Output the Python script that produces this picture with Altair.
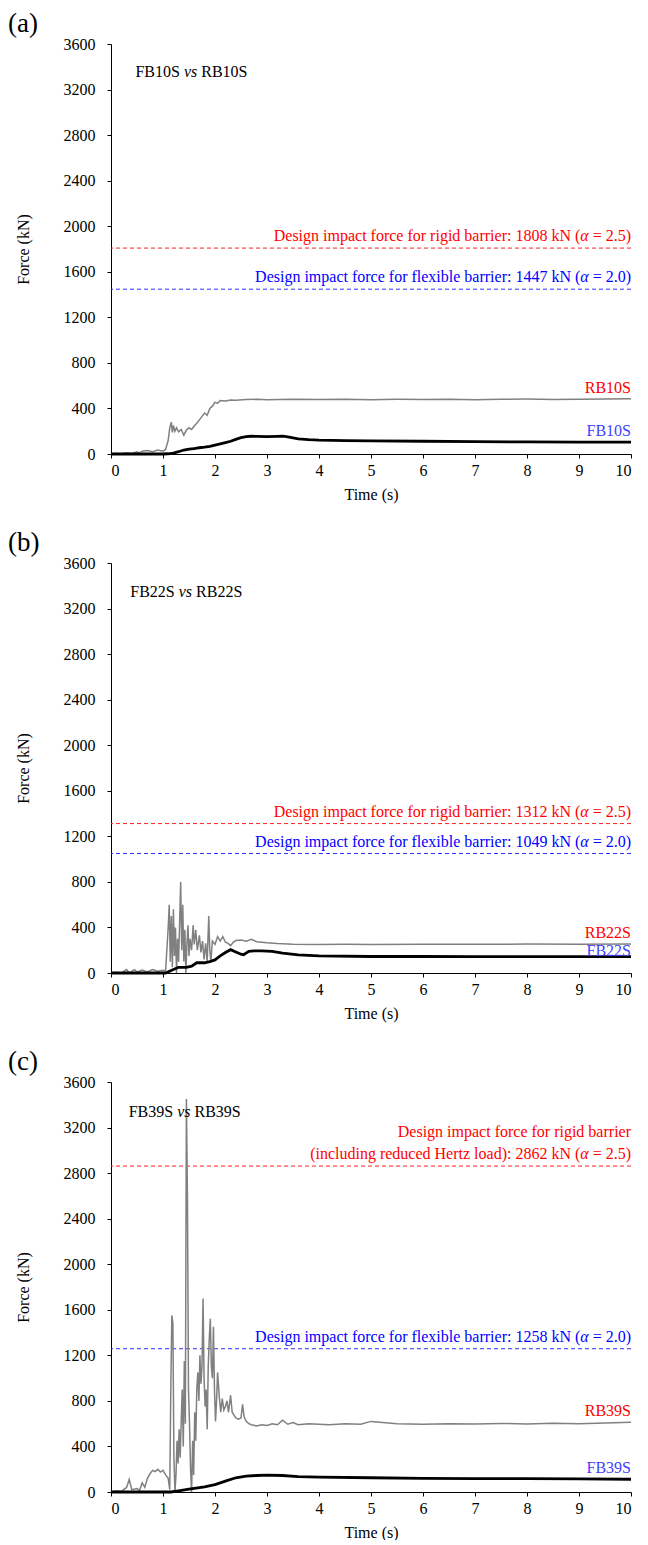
import altair as alt
import pandas as pd

SERIF = "Liberation Serif"

# ---------------- data ----------------
panel_tags = ["(a)", "(b)", "(c)"]
fb_names = ["FB10S", "FB22S", "FB39S"]
rb_names = ["RB10S", "RB22S", "RB39S"]
design_rigid = [1808, 1312, 2862]
design_flex = [1447, 1049, 1258]
alpha_rigid = "2.5"
alpha_flex = "2.0"

# Panel (a)
t_rb_a = [0, 0.1, 0.2, 0.3, 0.4, 0.5, 0.55, 0.6, 0.7, 0.8, 0.9, 1.0, 1.05, 1.1, 1.13, 1.16, 1.18, 1.2, 1.23,
          1.26, 1.3, 1.35, 1.4, 1.45, 1.5, 1.55, 1.6, 1.65, 1.7, 1.75, 1.8, 1.85, 1.9, 1.95, 2.0, 2.05, 2.1,
          2.2, 2.3, 2.4, 2.6, 2.8, 3.0, 3.5, 4, 4.5, 5, 5.5, 6, 6.5, 7, 7.5, 8, 8.5, 9, 9.5, 10]
f_rb_a = [0, 5, 0, 10, 5, 20, 10, 25, 30, 20, 35, 25, 40, 120, 230, 280, 190, 250, 200,
          230, 195, 215, 165, 210, 230, 215, 245, 270, 300, 330, 360, 340, 400, 420, 455, 445, 470,
          465, 475, 472, 478, 480, 476, 480, 478, 481, 477, 480, 478, 481, 477, 480, 482, 479, 481, 483, 485]
t_fb_a = [0, 1.0, 1.1, 1.2, 1.3, 1.4, 1.5, 1.6, 1.7, 1.8, 1.9, 2.0, 2.1, 2.2, 2.3, 2.4, 2.5, 2.6, 2.7, 2.8,
          3.0, 3.2, 3.3, 3.4, 3.6, 3.8, 4.0, 4.5, 5, 6, 7, 8, 9, 10]
f_fb_a = [0, 0, 2, 8, 20, 35, 42, 48, 55, 60, 68, 78, 88, 100, 112, 128, 143, 152, 156, 155,
          152, 155, 156, 150, 133, 126, 122, 118, 115, 112, 108, 106, 105, 105]

# Panel (b)
t_rb_b = [0, 0.1, 0.2, 0.3, 0.35, 0.45, 0.5, 0.6, 0.7, 0.8, 0.9, 1.0, 1.05, 1.1, 1.12, 1.14, 1.16, 1.18,
          1.2, 1.22, 1.24, 1.26, 1.28, 1.3, 1.32, 1.34, 1.36, 1.38, 1.4, 1.42, 1.44, 1.46, 1.48, 1.5,
          1.52, 1.55, 1.58, 1.6, 1.63, 1.66, 1.7, 1.73, 1.76, 1.79, 1.82, 1.85, 1.88, 1.9, 1.92, 1.95,
          2.0, 2.05, 2.1, 2.15, 2.2, 2.25, 2.3, 2.35, 2.4, 2.5, 2.6, 2.7, 2.8, 2.9, 3.0, 3.2, 3.5, 4,
          4.5, 5, 6, 7, 8, 9, 10]
f_rb_b = [0, 5, 0, 30, 0, 30, 10, 25, 10, 30, 15, 25, 20, 400, 600, 100, 500, 50,
          560, 150, 400, 0, 300, 100, 450, 800, 200, 600, 100, 380, 0, 250, 420, 150,
          300, 200, 420, 250, 380, 200, 330, 180, 280, 120, 260, 100, 500, 200, 100, 280,
          250, 320, 280, 320, 270, 260, 240, 270, 285, 290, 280, 295, 275, 270, 265, 258, 252, 250,
          252, 250, 253, 252, 254, 253, 255]
t_fb_b = [0, 1.05, 1.2, 1.3, 1.45, 1.55, 1.65, 1.8, 1.9, 2.0, 2.1, 2.2, 2.3, 2.4, 2.5, 2.55, 2.65, 2.75,
          2.9, 3.1, 3.3, 3.6, 4, 5, 6, 7, 8, 10]
f_fb_b = [0, 0, 30, 50, 50, 60, 90, 90, 100, 115, 150, 180, 205, 185, 165, 160, 190, 195,
          195, 190, 175, 160, 150, 145, 145, 143, 143, 143]

# Panel (c)
t_rb_c = [0, 0.1, 0.2, 0.3, 0.35, 0.4, 0.5, 0.55, 0.6, 0.65, 0.7, 0.75, 0.8, 0.85, 0.9, 0.95, 1.0, 1.05,
          1.1, 1.13, 1.15, 1.17, 1.19, 1.21, 1.23, 1.25, 1.27, 1.29, 1.31, 1.33, 1.35, 1.37, 1.39, 1.41,
          1.43, 1.45, 1.47, 1.49, 1.51, 1.53, 1.55, 1.57, 1.59, 1.61, 1.63, 1.65, 1.67, 1.69, 1.71, 1.73,
          1.75, 1.77, 1.79, 1.81, 1.83, 1.85, 1.87, 1.89, 1.91, 1.93, 1.95, 1.97, 1.99, 2.01, 2.03, 2.05,
          2.08, 2.11, 2.14, 2.17, 2.2, 2.23, 2.26, 2.3, 2.33, 2.36, 2.4, 2.45, 2.5, 2.53, 2.56, 2.6, 2.65,
          2.7, 2.8, 2.9, 3.0, 3.1, 3.2, 3.3, 3.4, 3.5, 3.6, 3.8, 4.0, 4.2, 4.5, 4.8, 5.0, 5.5, 6.0, 6.5,
          7, 7.5, 8, 8.5, 9, 9.5, 10]
f_rb_c = [0, 10, 5, 40, 110, 20, 30, 15, 80, 40, 120, 160, 190, 180, 200, 175, 190, 150,
          120, 20, 900, 1550, 1480, 300, 0, 150, 450, 250, 550, 300, 620, 900, 400, 1150,
          600, 3450, 2600, 900, 600, 200, 0, 450, 150, 700, 450, 900, 1050, 800, 1200, 950,
          1100, 1700, 1000, 750, 900, 550, 1100, 1350, 1520, 1100, 1000, 1450, 900, 620, 800, 1050,
          850, 700, 820, 720, 750, 800, 700, 850, 700, 680, 650, 640, 650, 770, 660, 620, 600,
          590, 580, 590, 585, 600, 590, 630, 595, 610, 590, 600, 595, 590, 600, 595, 620, 600, 595, 600,
          598, 602, 598, 603, 600, 605, 612]
t_fb_c = [0, 1.15, 1.3, 1.5, 1.8, 2.0, 2.2, 2.4, 2.6, 2.8, 3.0, 3.3, 3.6, 4.0, 5, 6, 7, 8, 9, 10]
f_fb_c = [0, 0, 10, 25, 45, 65, 95, 125, 140, 145, 148, 145, 135, 130, 125, 120, 118, 117, 115, 112]

rb_t = [t_rb_a, t_rb_b, t_rb_c]
rb_f = [f_rb_a, f_rb_b, f_rb_c]
fb_t = [t_fb_a, t_fb_b, t_fb_c]
fb_f = [f_fb_a, f_fb_b, f_fb_c]
title_pos_t = [0.47, 0.37, 0.34]
title_pos_f = [3357, 3345, 3337]

for a, b in zip(rb_t + fb_t, rb_f + fb_f):
    assert len(a) == len(b)

# ---------------- chart ----------------
W, H = 520, 410
X_SCALE = alt.Scale(domain=[0, 10], nice=False)
Y_SCALE = alt.Scale(domain=[0, 3600], nice=False)
x_axis = alt.Axis(values=list(range(0, 11)), title="Time (s)", format="d")
y_axis = alt.Axis(values=list(range(0, 3601, 400)), title="Force (kN)", format="d")

ONE = pd.DataFrame({"k": [0]})


def txt(t, f, text, **kw):
    kw.setdefault("font", SERIF)
    kw.setdefault("fontSize", 16)
    return alt.Chart(ONE).mark_text(**kw).encode(
        x=alt.datum(t, type="quantitative"),
        y=alt.datum(f, type="quantitative"),
        text=alt.value(text),
    )


def design_label(f, lead, alpha_val, color, dy):
    tail = "\u00a0=\u00a0" + alpha_val + ")"
    tail_w = 42.4
    alpha_w = 8.3
    return [
        txt(10, f, lead, align="right", baseline="alphabetic", dy=dy, dx=-(tail_w + alpha_w), color=color),
        txt(10, f, "\u03b1", align="right", baseline="alphabetic", dy=dy, dx=-tail_w, color=color,
            fontStyle="italic"),
        txt(10, f, tail, align="right", baseline="alphabetic", dy=dy, color=color),
    ]


def panel(i):
    df_r = pd.DataFrame({"t": rb_t[i], "f": rb_f[i]})
    df_f = pd.DataFrame({"t": fb_t[i], "f": fb_f[i]})
    enc = dict(x=alt.X("t:Q", scale=X_SCALE, axis=x_axis),
               y=alt.Y("f:Q", scale=Y_SCALE, axis=y_axis))
    gray = alt.Chart(df_r).mark_line(color="#808080", strokeWidth=1.5).encode(**enc)
    black = alt.Chart(df_f).mark_line(color="black", strokeWidth=2.8).encode(**enc)

    rule_r = alt.Chart(pd.DataFrame({"f": [design_rigid[i]]})).mark_rule(
        color="#ff2020", strokeDash=[4, 3], strokeWidth=1).encode(y=alt.Y("f:Q", scale=Y_SCALE))
    rule_f = alt.Chart(pd.DataFrame({"f": [design_flex[i]]})).mark_rule(
        color="#3030ff", strokeDash=[4, 3], strokeWidth=1).encode(y=alt.Y("f:Q", scale=Y_SCALE))

    layers = [rule_r, rule_f, gray, black]

    if i == 2:
        layers.append(txt(10, design_rigid[i], "Design impact force for rigid barrier",
                          align="right", baseline="alphabetic", dy=-29, color="#ff0000"))
        layers += design_label(design_rigid[i],
                               "(including reduced Hertz load): %d kN (" % design_rigid[i],
                               alpha_rigid, "#ff0000", -7)
    else:
        layers += design_label(design_rigid[i],
                               "Design impact force for rigid barrier: %d kN (" % design_rigid[i],
                               alpha_rigid, "#ff0000", -7)
    layers += design_label(design_flex[i],
                           "Design impact force for flexible barrier: %d kN (" % design_flex[i],
                           alpha_flex, "#0000ff", -7)

    # series labels
    layers.append(txt(10, rb_f[i][-1], rb_names[i], align="right", baseline="alphabetic", dy=-6,
                      color="#ff0000"))
    layers.append(txt(10, fb_f[i][-1], fb_names[i], align="right", baseline="alphabetic",
                      dy=(-1 if i == 1 else -6), color="#3f3fff"))

    # inner title "FBxxS vs RBxxS"
    tt, tf = title_pos_t[i], title_pos_f[i]
    layers.append(txt(tt, tf, fb_names[i], align="left", baseline="middle", color="black"))
    layers.append(txt(tt, tf, "vs", align="left", baseline="middle", dx=48.5, color="black",
                      fontStyle="italic"))
    layers.append(txt(tt, tf, rb_names[i], align="left", baseline="middle", dx=65.8, color="black"))

    # panel tag
    layers.append(alt.Chart(ONE).mark_text(font=SERIF, fontSize=27, align="left", baseline="top",
                                           color="black").encode(
        x=alt.value(-103), y=alt.value(-33), text=alt.value(panel_tags[i])))

    return alt.layer(*layers).properties(width=W, height=H)


chart = alt.vconcat(
    panel(0), panel(1), panel(2), spacing=27,
    padding={"top": 2, "left": 0, "right": 0, "bottom": 0},
).configure_view(
    stroke=None
).configure_axis(
    grid=False,
    domainColor="black",
    domainWidth=1,
    tickColor="black",
    tickSize=4,
    labelFont=SERIF,
    labelFontSize=16,
    labelColor="black",
    titleFont=SERIF,
    titleFontSize=16,
    titleFontWeight="normal",
    titleColor="black",
).configure_axisY(
    labelPadding=12,
    titlePadding=32,
).configure_axisX(
    labelPadding=4,
    titlePadding=8,
)

chart.save("out.html", embed_options={"renderer": "svg", "actions": False})
